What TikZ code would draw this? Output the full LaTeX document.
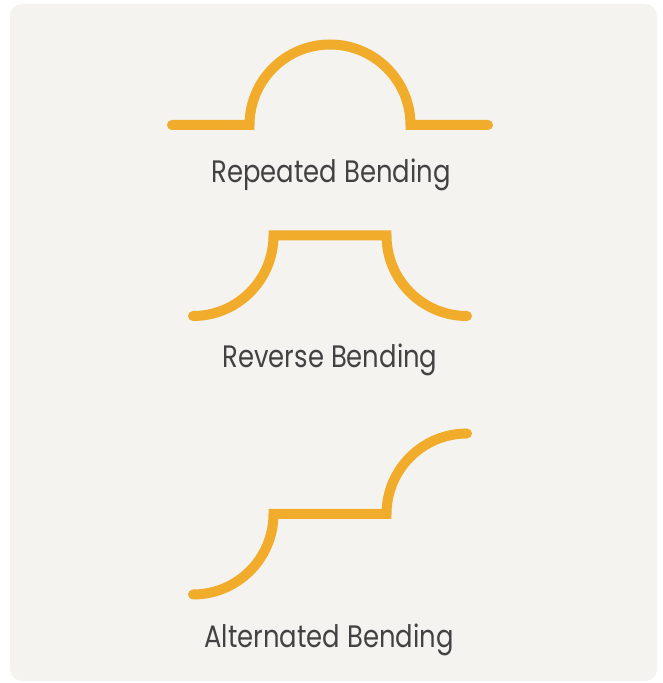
\documentclass[tikz,border=0pt]{standalone}
\usepackage{fontspec}
\setmainfont{Poppins}
\definecolor{panel}{HTML}{F4F3F0}
\definecolor{bendorange}{HTML}{F0AC2A}
\definecolor{labelgrey}{HTML}{424242}
\newcommand{\capnarrow}[1]{\scalebox{0.835}[1]{#1}}
\begin{document}
\begin{tikzpicture}[x=1pt,y=1pt,
  bendline/.style={draw=bendorange,line width=10pt,line cap=round,line join=miter},
  caption/.style={anchor=base,text=labelgrey,font=\fontsize{31}{36}\selectfont,inner sep=0pt}]
\useasboundingbox (0,0) rectangle (662,683);
\fill[white] (0,0) rectangle (662,683);
\fill[panel,rounded corners=12pt] (10,2) rectangle (657,679);
% Repeated bending
\draw[bendline] (172,558) -- (249.5,558) arc[start angle=180,end angle=0,radius=80.5] -- (488,558);
\node[caption] (t1) at (331,500) {\capnarrow{Repeated Bending}};
% Reverse bending
\draw[bendline] (193,367) arc[start angle=-90,end angle=0,radius=80.5] -- (386.5,447.5) arc[start angle=180,end angle=270,radius=80.5];
\node[caption] (t2) at (330,315) {\capnarrow{Reverse Bending}};
% Alternated bending
\draw[bendline] (193,88.5) arc[start angle=-90,end angle=0,radius=80.5] -- (386.5,169) arc[start angle=180,end angle=90,radius=80.5];
\node[caption] (t3) at (329,35) {\capnarrow{Alternated Bending}};
\end{tikzpicture}
\end{document}
